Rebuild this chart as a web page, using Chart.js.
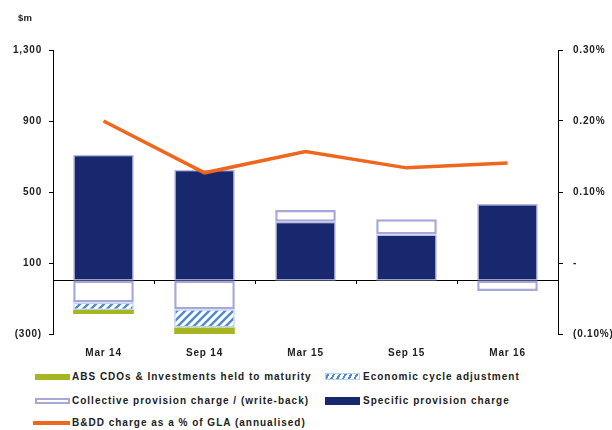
<!DOCTYPE html>
<html>
<head>
<meta charset="utf-8">
<script src="https://cdn.jsdelivr.net/npm/chart.js@4/dist/chart.umd.min.js"></script>
<style>
  html, body { margin:0; padding:0; background:#fff; }
  #wrap { position:relative; width:612px; height:430px; font-family:"Liberation Sans", Arial, sans-serif; }
  #cv { position:absolute; left:0; top:0; }
  .unit { position:absolute; left:18px; top:12px; font-size:9.5px; font-weight:bold; color:#222; letter-spacing:0.3px; }
  .lg { position:absolute; font-size:10px; font-weight:bold; color:#222; letter-spacing:1px; white-space:nowrap; line-height:12px; }
  .sw { position:absolute; box-sizing:border-box; }
</style>
</head>
<body>
<div id="wrap">
  <canvas id="cv" width="612" height="365"></canvas>
  <div class="unit">$m</div>
  <div id="legend"></div>
</div>
<script>
// ---- data ----
const categories = ["Mar 14", "Sep 14", "Mar 15", "Sep 15", "Mar 16"];
const specificProvision = [710, 625, 332, 261, 432];
const collectiveProvision = [-122, -160, 66, 86, -58];
const economicCycle = [-43, -103, 0, 0, 0];
const absCdos = [-23, -38, 0, 0, 0];
const bddPercent = [0.200, 0.127, 0.157, 0.134, 0.141];
const leftTicks = [-300, 100, 500, 900, 1300];
const rightTicks = [-0.10, 0, 0.10, 0.20, 0.30];
const seriesNames = {
  abs: "ABS CDOs & Investments held to maturity",
  econ: "Economic cycle adjustment",
  coll: "Collective provision charge / (write-back)",
  spec: "Specific provision charge",
  line: "B&DD charge as a % of GLA (annualised)"
};

// ---- styles ----
const NAVY = "#17286e";
const GREEN = "#a6b520";
const LAV = "#a7a7d8";
const ORANGE = "#f0661c";
const HATCH = "#4f8ad0";

function hatchPattern() {
  const c = document.createElement("canvas");
  c.width = 8; c.height = 8;
  const g = c.getContext("2d");
  g.fillStyle = "#fff"; g.fillRect(0, 0, 8, 8);
  g.strokeStyle = HATCH; g.lineWidth = 2.4;
  g.beginPath();
  g.moveTo(-2, 10); g.lineTo(10, -2);
  g.moveTo(-6, 6); g.lineTo(6, -6);
  g.moveTo(2, 14); g.lineTo(14, 2);
  g.stroke();
  return g.createPattern(c, "repeat");
}

Chart.defaults.font.family = '"Liberation Sans", Arial, sans-serif';
Chart.defaults.color = "#222";

const fmtLeft = v => {
  if (v < 0) return "(" + Math.abs(v).toLocaleString("en-US") + ")";
  return v.toLocaleString("en-US");
};
const fmtRight = v => {
  const r = Math.round(v * 100) / 100;
  if (Math.abs(r) < 1e-9) return "-";
  if (r < 0) return "(" + Math.abs(r).toFixed(2) + "%)";
  return r.toFixed(2) + "%";
};

const spacing = {
  id: "letterSpacing",
  beforeDraw(chart) { chart.ctx.letterSpacing = "0.8px"; }
};

new Chart(document.getElementById("cv"), {
  type: "bar",
  plugins: [spacing],
  data: {
    labels: categories,
    datasets: [
      { label: seriesNames.spec, data: specificProvision, backgroundColor: NAVY,
        borderColor: "rgba(160,160,215,0.75)", borderWidth: 1.5, borderSkipped: false, order: 1 },
      { label: seriesNames.coll, data: collectiveProvision, backgroundColor: "#fff",
        borderColor: LAV, borderWidth: 2.5, borderSkipped: false, order: 1 },
      { label: seriesNames.econ, data: economicCycle, backgroundColor: hatchPattern(),
        borderColor: "#bcd1ee", borderWidth: 1.5, borderSkipped: false, order: 1 },
      { label: seriesNames.abs, data: absCdos, backgroundColor: GREEN,
        borderWidth: 0, order: 1 },
      { type: "line", label: seriesNames.line, data: bddPercent, yAxisID: "y1",
        borderColor: ORANGE, borderWidth: 3.5, pointRadius: 0, tension: 0, order: 0 }
    ]
  },
  options: {
    responsive: false,
    animation: false,
    layout: { padding: { top: 50, left: 0, right: 0, bottom: 0 } },
    plugins: { legend: { display: false }, tooltip: { enabled: false } },
    datasets: { bar: { categoryPercentage: 1, barPercentage: 0.6 } },
    scales: {
      x: {
        stacked: true,
        position: "bottom",
        grid: { display: false, drawTicks: false },
        border: { display: false },
        ticks: { padding: 13, font: { size: 10, weight: "bold" }, color: "#222" },
        afterFit: s => { s.height = 31; }
      },
      x2: {
        type: "category",
        labels: categories,
        position: { y: 0 },
        grid: { offset: true, drawOnChartArea: false, tickLength: 3, color: "#000", lineWidth: 1 },
        border: { display: true, color: "#000", width: 1 },
        ticks: { display: false }
      },
      y: {
        stacked: true,
        position: "left",
        min: -300, max: 1300,
        afterBuildTicks: s => { s.ticks = leftTicks.map(v => ({ value: v })); },
        ticks: { callback: v => fmtLeft(v), padding: 7, font: { size: 10, weight: "bold" }, color: "#222" },
        grid: { drawOnChartArea: false, tickLength: 4, color: "#000" },
        border: { display: true, color: "#000", width: 1 },
        afterFit: s => { s.width = 53; }
      },
      y1: {
        position: "right",
        min: -0.10, max: 0.30,
        afterBuildTicks: s => { s.ticks = rightTicks.map(v => ({ value: v })); },
        ticks: { callback: v => fmtRight(v), padding: 10, font: { size: 10, weight: "bold" }, color: "#222" },
        grid: { drawOnChartArea: false, tickLength: 5, color: "#000" },
        border: { display: true, color: "#000", width: 1 },
        afterFit: s => { s.width = 54; }
      }
    }
  }
});

// ---- legend (HTML) ----
const legendItems = [
  { key: "abs", col: 0, row: 0 },
  { key: "econ", col: 1, row: 0 },
  { key: "coll", col: 0, row: 1 },
  { key: "spec", col: 1, row: 1 },
  { key: "line", col: 0, row: 2 }
];
const lg = document.getElementById("legend");
const colSwX = [35, 325], colTxX = [72, 363], rowY = [376.5, 401, 423];
legendItems.forEach(it => {
  const sw = document.createElement("div");
  sw.className = "sw";
  const x = colSwX[it.col], y = rowY[it.row];
  let w = 35, h = 6;
  if (it.key === "abs") { sw.style.background = GREEN; h = 6; }
  else if (it.key === "spec") { sw.style.background = NAVY; h = 8; }
  else if (it.key === "coll") { sw.style.background = "#fff"; sw.style.border = "2px solid " + LAV; h = 6; }
  else if (it.key === "econ") { sw.style.background = "repeating-linear-gradient(-60deg, #fff 0 3px, " + HATCH + " 3px 5px)"; sw.style.border = "1.5px solid #bcd1ee"; h = 7; }
  else if (it.key === "line") { sw.style.background = ORANGE; w = 37; h = 3.5; }
  sw.style.left = (it.key === "line" ? x - 2 : x) + "px";
  sw.style.width = w + "px";
  sw.style.height = h + "px";
  sw.style.top = (y - h / 2) + "px";
  lg.appendChild(sw);
  const t = document.createElement("div");
  t.className = "lg";
  t.textContent = seriesNames[it.key];
  t.style.left = colTxX[it.col] + "px";
  t.style.top = (y - 6) + "px";
  lg.appendChild(t);
});
</script>
</body>
</html>
